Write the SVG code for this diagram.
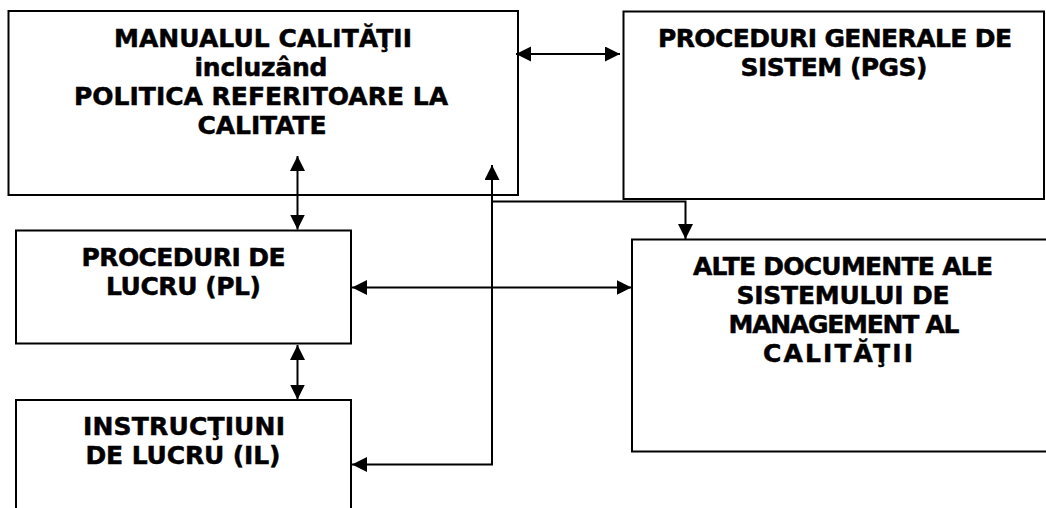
<svg xmlns="http://www.w3.org/2000/svg" width="1046" height="508" viewBox="0 0 1046 508">
<style>
.box{fill:#fff;stroke:#000;stroke-width:2}
.t{font-family:"DejaVu Sans",Verdana,sans-serif;font-weight:bold;font-size:25px;fill:#000;stroke:#000;stroke-width:0.5;text-anchor:middle}
.c{fill:none;stroke:#000;stroke-width:2}
</style>
<defs>
<marker id="ah" markerUnits="userSpaceOnUse" markerWidth="16" markerHeight="16" refX="15" refY="7.5" orient="auto-start-reverse"><path d="M0,0 L15,7.5 L0,15 z" fill="#000"/></marker>
</defs>
<rect width="1046" height="508" fill="#fff"/>
<g id="manual">
<rect class="box" x="8.5" y="11" width="509.5" height="184"/>
<text class="t" x="263" y="47" textLength="298">MANUALUL CALITĂŢII</text>
<text class="t" x="261" y="76" textLength="133">incluzând</text>
<text class="t" x="261" y="105" textLength="374">POLITICA REFERITOARE LA</text>
<text class="t" x="262" y="134" textLength="129">CALITATE</text>
</g>
<g id="pgs">
<rect class="box" x="623.5" y="11.5" width="420.5" height="187.5"/>
<text class="t" x="835" y="47" textLength="354">PROCEDURI GENERALE DE</text>
<text class="t" x="834" y="76" textLength="187">SISTEM (PGS)</text>
</g>
<g id="pl">
<rect class="box" x="16" y="230.5" width="335" height="113"/>
<text class="t" x="183.5" y="266" textLength="204">PROCEDURI DE</text>
<text class="t" x="183.5" y="295" textLength="155">LUCRU (PL)</text>
</g>
<g id="il">
<rect class="box" x="16" y="400" width="335" height="120"/>
<text class="t" x="184" y="435" textLength="202">INSTRUCŢIUNI</text>
<text class="t" x="183" y="464" textLength="195">DE LUCRU (IL)</text>
</g>
<g id="alte">
<rect class="box" x="632" y="239.5" width="422" height="212"/>
<text class="t" x="843" y="275" textLength="300">ALTE DOCUMENTE ALE</text>
<text class="t" x="843" y="304" textLength="213">SISTEMULUI DE</text>
<text class="t" x="844" y="333" textLength="231">MANAGEMENT AL</text>
<text class="t" x="838" y="362" textLength="150">CALITĂŢII</text>
</g>
<g id="connectors">
<path class="c" d="M516,54 H620" marker-start="url(#ah)" marker-end="url(#ah)"/>
<path class="c" d="M297.5,156 V229.5" marker-start="url(#ah)" marker-end="url(#ah)"/>
<path class="c" d="M297.5,345 V399.5" marker-start="url(#ah)" marker-end="url(#ah)"/>
<path class="c" d="M352,287.5 H631.5" marker-start="url(#ah)" marker-end="url(#ah)"/>
<path class="c" d="M352,464.5 H492 V165" marker-start="url(#ah)" marker-end="url(#ah)"/>
<path class="c" d="M492,201.5 H685.5 V239" marker-end="url(#ah)"/>
</g>
</svg>
